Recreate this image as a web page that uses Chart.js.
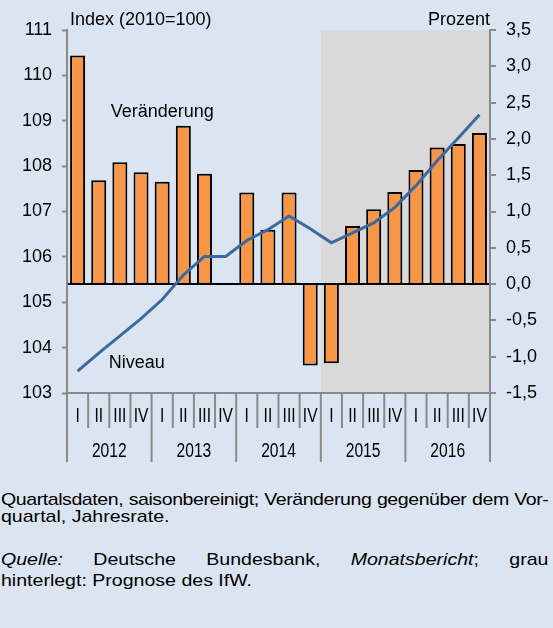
<!DOCTYPE html>
<html><head><meta charset="utf-8">
<script src="https://cdn.jsdelivr.net/npm/chart.js@4.4.1/dist/chart.umd.min.js"></script>
<style>
html,body{margin:0;padding:0;background:#dbe5f1;}
body{width:553px;height:628px;position:relative;overflow:hidden;font-family:"Liberation Sans",Arial,sans-serif;color:#000;}
#wrap{position:absolute;left:0;top:0;width:553px;height:475px;}
.note{position:absolute;left:1px;font-size:17px;line-height:19px;transform-origin:0 0;transform:scaleX(1.15);white-space:nowrap;}
.just{width:476px;white-space:normal;text-align:justify;text-align-last:justify;}
.tight{letter-spacing:-0.38px;}
</style></head>
<body>
<div id="wrap"><canvas id="c"></canvas></div>
<div class="note just tight" style="top:490px">Quartalsdaten, saisonbereinigt; Veränderung gegenüber dem Vor-</div>
<div class="note" style="top:507px">quartal, Jahresrate.</div>
<div class="note just" style="top:550px"><i>Quelle:</i> Deutsche Bundesbank, <i>Monatsbericht</i>; grau</div>
<div class="note" style="top:571px">hinterlegt: Prognose des IfW.</div>
<script>
const quarters = ['I','II','III','IV','I','II','III','IV','I','II','III','IV','I','II','III','IV','I','II','III','IV'];
const years = ['2012','2013','2014','2015','2016'];
const changeRate = [3.15,1.43,1.68,1.54, 1.41,2.18,1.52,null, 1.26,0.75,1.26,-1.12, -1.09,0.80,1.03,1.27, 1.57,1.88,1.93,2.08];
const indexLevel = [103.48,103.88,104.26,104.64, 105.06,105.60,106.01,106.01, 106.36,106.60,106.90,106.62, 106.31,106.53,106.75,107.09, 107.57,108.12,108.62,109.13];
const forecastStart = 12;
const leftTitle = 'Index (2010=100)';
const rightTitle = 'Prozent';

const SANS = '"Liberation Sans",Arial,sans-serif';
const AXIS = '#8a8a8a';

function narrowText(ctx, t, cx, cy) {
  ctx.save();
  ctx.translate(cx, cy);
  ctx.scale(0.78, 1);
  ctx.fillText(t, 0, 0);
  ctx.restore();
}

const decor = {
  id: 'decor',
  beforeDraw(chart) {
    const {ctx, chartArea: a, scales: {x}} = chart;
    const step = x.getPixelForValue(1) - x.getPixelForValue(0);
    const xs = x.getPixelForValue(forecastStart) - step / 2;
    ctx.save();
    ctx.fillStyle = '#d9d9d9';
    ctx.fillRect(xs, a.top, a.right - xs, a.bottom - a.top);
    ctx.restore();
  },
  afterDraw(chart) {
    const {ctx, chartArea: a, scales: {x, y, y1}} = chart;
    const step = x.getPixelForValue(1) - x.getPixelForValue(0);
    const x0 = x.getPixelForValue(0) - step / 2;
    ctx.save();
    ctx.strokeStyle = AXIS;
    ctx.lineWidth = 2;
    for (let i = 0; i <= quarters.length; i++) {
      const px = x0 + i * step;
      const yEnd = i % 4 === 0 ? a.bottom + 69 : a.bottom + 35;
      ctx.beginPath();
      ctx.moveTo(px, a.bottom);
      ctx.lineTo(px, yEnd);
      ctx.stroke();
    }
    ctx.fillStyle = '#000';
    ctx.font = '20px ' + SANS;
    ctx.textAlign = 'center';
    ctx.textBaseline = 'middle';
    quarters.forEach((q, i) => narrowText(ctx, q, x.getPixelForValue(i), a.bottom + 23));
    years.forEach((yr, k) => {
      const cx = (x.getPixelForValue(4 * k) + x.getPixelForValue(4 * k + 3)) / 2;
      narrowText(ctx, yr, cx, a.bottom + 58);
    });
    ctx.font = '18px ' + SANS;
    ctx.textBaseline = 'alphabetic';
    ctx.textAlign = 'left';
    ctx.fillText(leftTitle, a.left + 3, 25);
    ctx.textAlign = 'right';
    ctx.fillText(rightTitle, a.right, 25);
    ctx.textAlign = 'center';
    ctx.fillText('Veränderung', x.getPixelForValue(4), y1.getPixelForValue(2.3));
    ctx.fillText('Niveau', x.getPixelForValue(2.8), y.getPixelForValue(103.55));
    ctx.restore();
  }
};

new Chart(document.getElementById('c'), {
  data: {
    labels: quarters,
    datasets: [
      {type: 'line', data: indexLevel, yAxisID: 'y', borderColor: '#3b69a0', borderWidth: 3,
       pointRadius: 0, tension: 0, order: 0},
      {type: 'bar', data: changeRate, yAxisID: 'y1', backgroundColor: '#f79646', borderColor: '#000',
       borderWidth: 2, borderSkipped: 'start', barPercentage: 0.71, categoryPercentage: 1, order: 1}
    ]
  },
  options: {
    responsive: true, maintainAspectRatio: false, animation: false,
    layout: {padding: {top: 30, left: 0, right: 0, bottom: 0}},
    plugins: {legend: {display: false}, tooltip: {enabled: false}},
    scales: {
      x: {
        offset: true,
        grid: {display: false, drawTicks: false},
        border: {display: true, color: AXIS, width: 2},
        ticks: {display: false},
        afterFit(s) { s.height = 82; }
      },
      y: {
        position: 'left', min: 103, max: 111,
        ticks: {stepSize: 1, font: {family: SANS, size: 18}, color: '#000', padding: 10},
        grid: {drawOnChartArea: false, tickLength: 5, tickColor: AXIS, tickWidth: 2},
        border: {color: AXIS, width: 2},
        afterFit(s) { s.width = 67; }
      },
      y1: {
        position: 'right', min: -1.5, max: 3.5, z: 1,
        ticks: {stepSize: 0.5, font: {family: SANS, size: 18}, color: '#000', padding: 10,
                callback: v => v.toFixed(1).replace('.', ',')},
        grid: {color: c => (c.tick && c.tick.value === 0) ? '#000' : 'rgba(0,0,0,0)', lineWidth: 2,
               tickColor: AXIS, tickLength: 6, tickWidth: 2},
        border: {color: AXIS, width: 2},
        afterFit(s) { s.width = 63; }
      }
    }
  },
  plugins: [decor]
});
</script>
</body></html>
